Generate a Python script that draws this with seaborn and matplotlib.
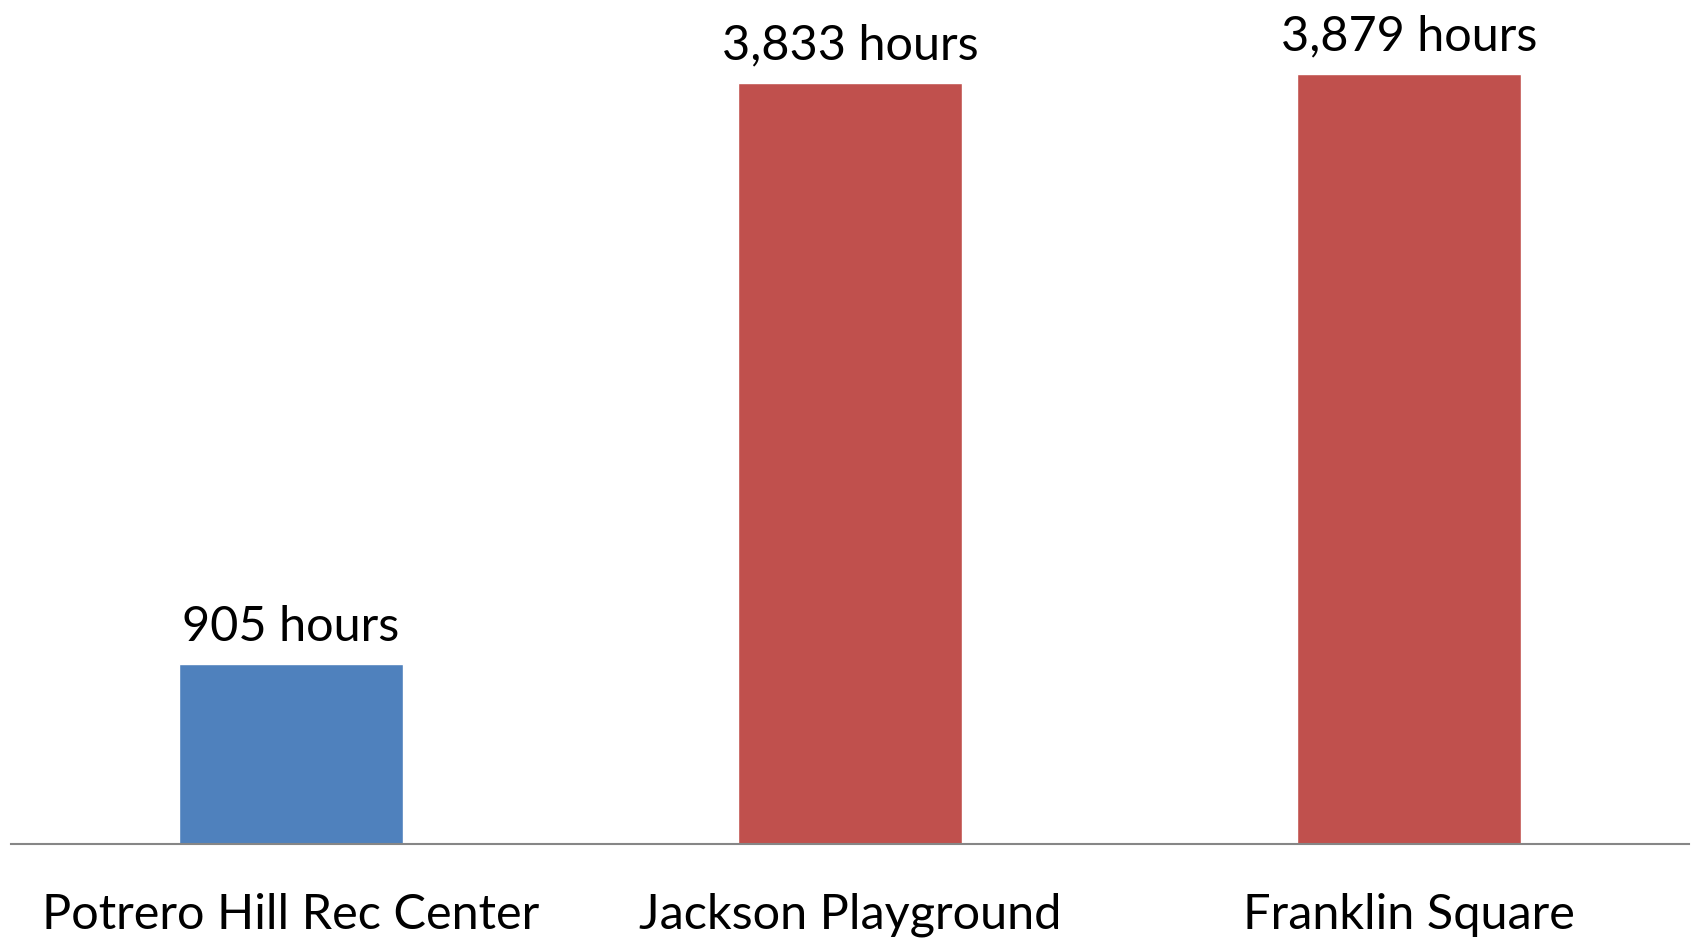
import matplotlib
matplotlib.use("Agg")
import matplotlib.pyplot as plt
import seaborn as sns
import pandas as pd

# ---------- data ----------
sites = ["Potrero Hill Rec Center", "Jackson Playground", "Franklin Square"]
hours = [905, 3833, 3879]
labels = ["905 hours", "3,833 hours", "3,879 hours"]
groups = ["low", "high", "high"]

df = pd.DataFrame({"site": sites, "hours": hours, "group": groups})

sns.set_theme(style="white")
plt.rcParams["font.family"] = ["Lato", "DejaVu Sans"]

fig = plt.figure(figsize=(16.94, 9.40), dpi=100)
ax = fig.add_axes([11 / 1694, 96 / 940, 1678 / 1694, 844 / 940])

sns.barplot(
    data=df, x="site", y="hours", hue="group",
    palette={"low": "#4F81BD", "high": "#C0504D"},
    width=0.4, dodge=False, legend=False, saturation=1, ax=ax,
)

for i, (h, lab) in enumerate(zip(hours, labels)):
    ax.annotate(lab, (i, h), xytext=(0, 11), textcoords="offset points",
                ha="center", va="bottom", fontsize=35, color="black")

ax.set_xlim(-0.5, 2.5)
ax.set_ylim(0, 4250)
ax.set_xlabel("")
ax.set_ylabel("")
ax.set_yticks([])
for s in ["top", "right", "left"]:
    ax.spines[s].set_visible(False)
ax.spines["bottom"].set_color("#868686")
ax.spines["bottom"].set_linewidth(1.5)
ax.tick_params(axis="x", length=0, pad=35, labelsize=35, labelcolor="black")

fig.savefig("out.png", dpi=100)
